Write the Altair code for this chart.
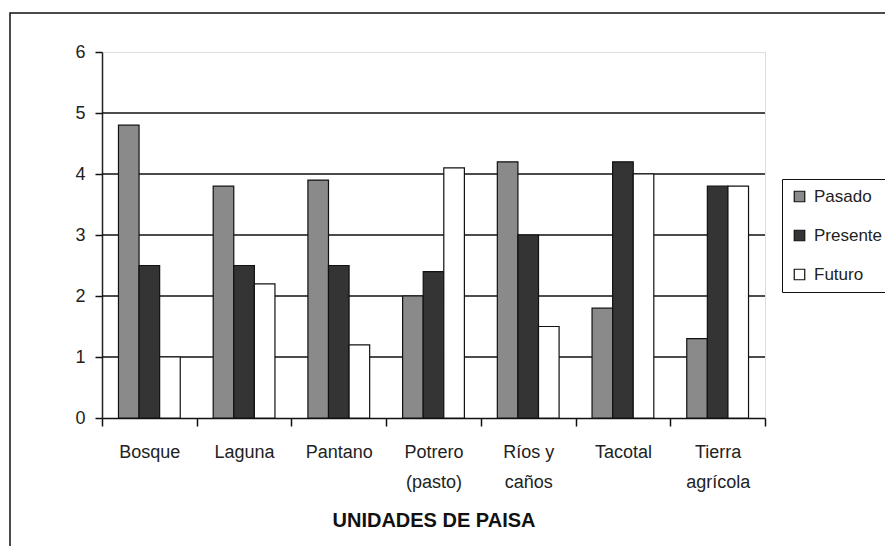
import altair as alt
import pandas as pd

categories = ["Bosque", "Laguna", "Pantano", "Potrero (pasto)", "Ríos y caños", "Tacotal", "Tierra agrícola"]
label_lines = [["Bosque"], ["Laguna"], ["Pantano"], ["Potrero", "(pasto)"], ["Ríos y", "caños"], ["Tacotal"], ["Tierra", "agrícola"]]
series = ["Pasado", "Presente", "Futuro"]
pasado = [4.8, 3.8, 3.9, 2.0, 4.2, 1.8, 1.3]
presente = [2.5, 2.5, 2.5, 2.4, 3.0, 4.2, 3.8]
futuro = [1.0, 2.2, 1.2, 4.1, 1.5, 4.0, 3.8]
colors = ["#8a8a8a", "#343434", "#ffffff"]
y_ticks = [0, 1, 2, 3, 4, 5, 6]
grid_values = [1, 2, 3, 4, 5]

rows = []
for s, vals in zip(series, [pasado, presente, futuro]):
    for c, v in zip(categories, vals):
        rows.append({"categoria": c, "serie": s, "value": v})
df = pd.DataFrame(rows)
grid_df = pd.DataFrame({"value": grid_values})

# multi-line label expression
expr = "datum.label"
for c, lines in zip(categories, label_lines):
    if len(lines) > 1:
        arr = "[" + ",".join("'" + l + "'" for l in lines) + "]"
        expr = f"datum.label == '{c}' ? {arr} : (" + expr + ")"

FONT = "Liberation Sans"

y_enc = alt.Y(
    "value:Q",
    scale=alt.Scale(domain=[0, 6], nice=False),
    axis=alt.Axis(values=y_ticks, title=None, grid=False, domain=True, domainColor="#222",
                  domainWidth=1.5, ticks=True, tickSize=7, tickColor="#111", tickWidth=1.5,
                  labelFont=FONT, labelFontSize=18, labelColor="#222", labelPadding=10),
)

frame = alt.Chart(pd.DataFrame({"a": [0]})).mark_rect(
    fillOpacity=0, stroke="#111", strokeWidth=1.5
).encode(
    x=alt.value(-92), x2=alt.value(950), y=alt.value(-39), y2=alt.value(620)
)

grid = alt.Chart(grid_df).mark_rule(color="#111", strokeWidth=1.5).encode(y=y_enc)

bars = alt.Chart(df).mark_bar(stroke="#111", strokeWidth=1.2).encode(
    x=alt.X("categoria:N", sort=categories,
            scale=alt.Scale(paddingInner=0, paddingOuter=0),
            axis=alt.Axis(title="UNIDADES DE PAISA", labelAngle=0, tickBand="extent",
                          tickSize=8, tickColor="#111", tickWidth=1.5, domainColor="#111",
                          domainWidth=1.5, labelFont=FONT, labelFontSize=18, labelColor="#222",
                          labelPadding=17, labelLineHeight=30, labelExpr=expr,
                          titleFont=FONT, titleFontSize=20, titleFontWeight="bold",
                          titleColor="#111", titlePadding=19)),
    xOffset=alt.XOffset("serie:N", sort=series,
                        scale=alt.Scale(domain=series, paddingInner=0, paddingOuter=0.8)),
    y=y_enc,
    color=alt.Color("serie:N", sort=series,
                    scale=alt.Scale(domain=series, range=colors),
                    legend=alt.Legend(title=None, orient="none", legendX=680, legendY=127,
                                      symbolType="square", symbolSize=110,
                                      symbolStrokeColor="#111", symbolStrokeWidth=1.2,
                                      labelFont=FONT, labelFontSize=17, labelColor="#222",
                                      rowPadding=21, padding=9, strokeColor="#111",
                                      fillColor="white", labelOffset=6)),
)

chart = alt.layer(frame, grid, bars).properties(
    width=663, height=366,
    autosize=alt.AutoSizeParams(type="none"),
    padding={"left": 94, "top": 44, "right": 120, "bottom": 128},
).configure_view(
    fill="#a6a6a6", stroke="#c4c4c4", strokeWidth=1.5
).configure(background="white")

chart.save("out.html", embed_options={"renderer": "svg", "actions": False})
